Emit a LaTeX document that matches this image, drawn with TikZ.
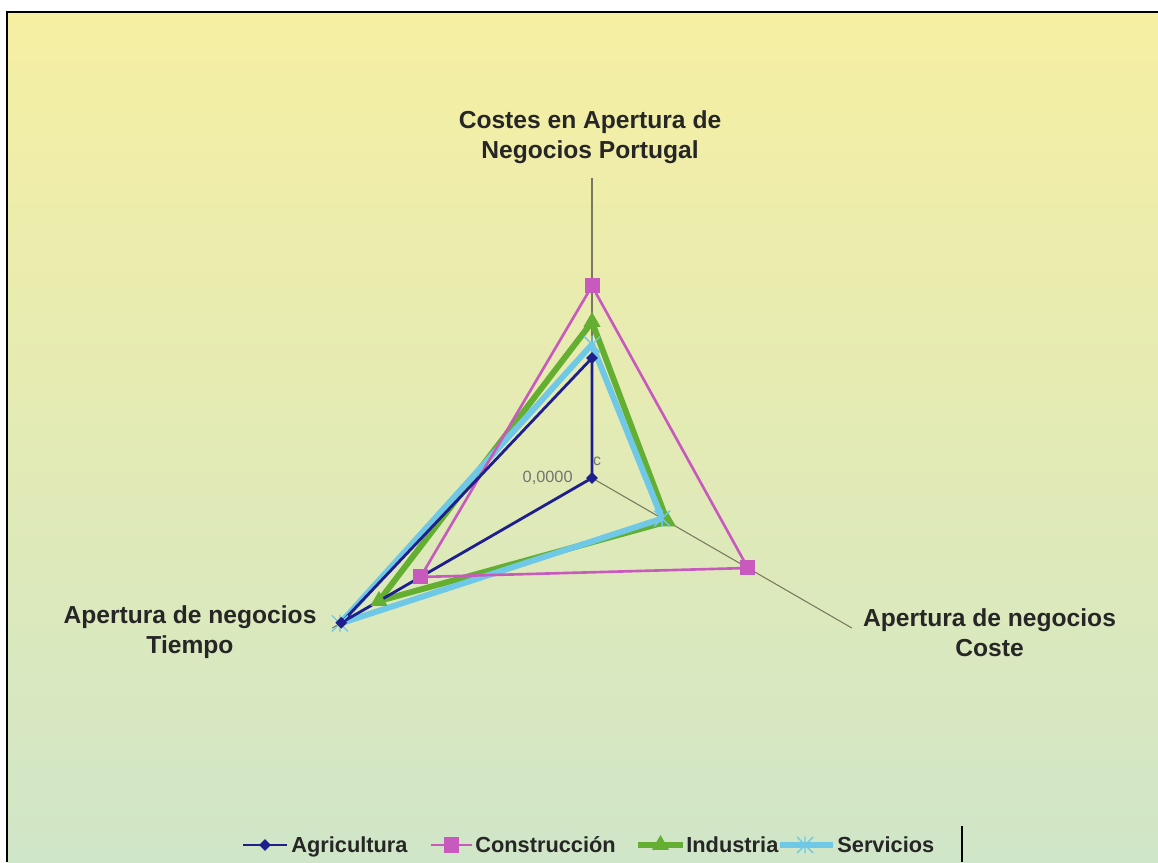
\documentclass[tikz,border=0pt]{standalone}
\usepackage{fontspec}
\setmainfont{Liberation Sans}
\usetikzlibrary{shapes.geometric}

\definecolor{agricolor}{RGB}{30,30,140}
\definecolor{construcolor}{RGB}{200,90,190}
\definecolor{induscolor}{RGB}{100,175,50}
\definecolor{servcolor}{RGB}{110,200,230}
\definecolor{ejecolor}{RGB}{120,120,95}
\definecolor{fondoarriba}{RGB}{246,239,162}
\definecolor{fondoabajo}{RGB}{208,230,200}

\tikzset{
  eje/.style={ejecolor, line width=0.6pt},
  etiqueta/.style={font=\fontsize{14}{17}\selectfont\bfseries, align=center, text=black!85},
  leyenda/.style={font=\fontsize{12.4}{14}\selectfont\bfseries, anchor=base west, inner sep=0pt, text=black!85},
  agri/.style={agricolor, line width=1.6pt, line join=round},
  constru/.style={construcolor, line width=1.5pt, line join=round},
  indus/.style={induscolor, line width=3.4pt, line join=round},
  serv/.style={servcolor, line width=3.4pt, line join=round},
  marcaagri/.style={diamond, fill=agricolor, inner sep=0pt, minimum size=0.24cm},
  marcaconstru/.style={rectangle, fill=construcolor, inner sep=0pt, minimum size=0.3cm},
  marcaindus/.style={regular polygon, regular polygon sides=3, fill=induscolor, inner sep=0pt, minimum size=0.4cm},
}

% Marca tipo estrella (X con barra) para Servicios
\newcommand{\estrellaserv}[1]{%
  \draw[servcolor, line width=0.8pt] (#1) +(-0.16,-0.16) -- +(0.16,0.16)
    (#1) +(-0.16,0.16) -- +(0.16,-0.16) (#1) +(0,-0.17) -- +(0,0.17);}

\begin{document}
\begin{tikzpicture}

% Fondo con degradado y borde
\useasboundingbox (0,0) rectangle (23.16,17.24);
\fill[white] (0,0) rectangle (23.16,17.24);
\shade[top color=fondoarriba, bottom color=fondoabajo] (0.14,0) rectangle (23.16,17.0);
\draw[black, line width=1pt] (0.14,0) -- (0.14,17.0) -- (23.16,17.0);

% Ejes del radar
\begin{scope}[shift={(11.84,7.68)}]
\coordinate (centro) at (0,0);
\foreach \ang/\n in {90/1,-30/2,210/3}
  \draw[eje] (centro) -- (\ang:6) coordinate (eje-\n);

% Series (valores relativos al radio)
\foreach \serie/\a/\b/\c in {indus/0.52/0.29/0.82, serv/0.445/0.27/0.97, constru/0.64/0.60/0.66, agri/0.40/0/0.965} {
  \coordinate (\serie-1) at (90:{\a*6});
  \coordinate (\serie-2) at (-30:{\b*6});
  \coordinate (\serie-3) at (210:{\c*6});
  \draw[\serie] (\serie-1) -- (\serie-2) -- (\serie-3) -- cycle;
}

% Marcas de cada serie
\foreach \i in {1,2,3} {
  \node[marcaindus] (m-indus-\i) at (indus-\i) {};
  \estrellaserv{serv-\i}
  \node[marcaconstru] (m-constru-\i) at (constru-\i) {};
  \node[marcaagri] (m-agri-\i) at (agri-\i) {};
}

% Rotulos de la escala
\node[anchor=east, font=\fontsize{9.3}{11}\selectfont, text=black!55, inner sep=0pt] (cero) at (-0.38,0) {0,0000};
\node[font=\fontsize{9}{11}\selectfont, text=black!55, inner sep=0pt] (cescala) at (0.1,0.34) {c};
\end{scope}

% Titulos de los ejes
\node[etiqueta] (tit-costes) at (11.8,14.5) {Costes en Apertura de\\Negocios Portugal};
\node[etiqueta] (tit-tiempo) at (3.8,4.59) {Apertura de negocios\\Tiempo};
\node[etiqueta] (tit-coste) at (19.79,4.59) {Apertura de negocios\\Coste};

% Leyenda
\draw[agri] (4.86,0.34) -- (5.74,0.34);
\node[marcaagri] (ley-agri) at (5.3,0.34) {};
\node[leyenda] (txt-agri) at (5.82,0.2) {Agricultura};
\draw[constru] (8.62,0.34) -- (9.44,0.34);
\node[marcaconstru] (ley-constru) at (9.03,0.34) {};
\node[leyenda] (txt-constru) at (9.5,0.2) {Construcción};
\draw[indus] (12.76,0.34) -- (13.66,0.34);
\node[marcaindus] (ley-indus) at (13.21,0.34) {};
\node[leyenda] (txt-indus) at (13.72,0.2) {Industria};
\draw[serv] (15.6,0.34) -- (16.66,0.34);
\estrellaserv{16.1,0.34}
\node[leyenda] (txt-serv) at (16.74,0.2) {Servicios};
\draw[black, line width=1.5pt] (19.24,0) -- (19.24,0.72);

\end{tikzpicture}
\end{document}
